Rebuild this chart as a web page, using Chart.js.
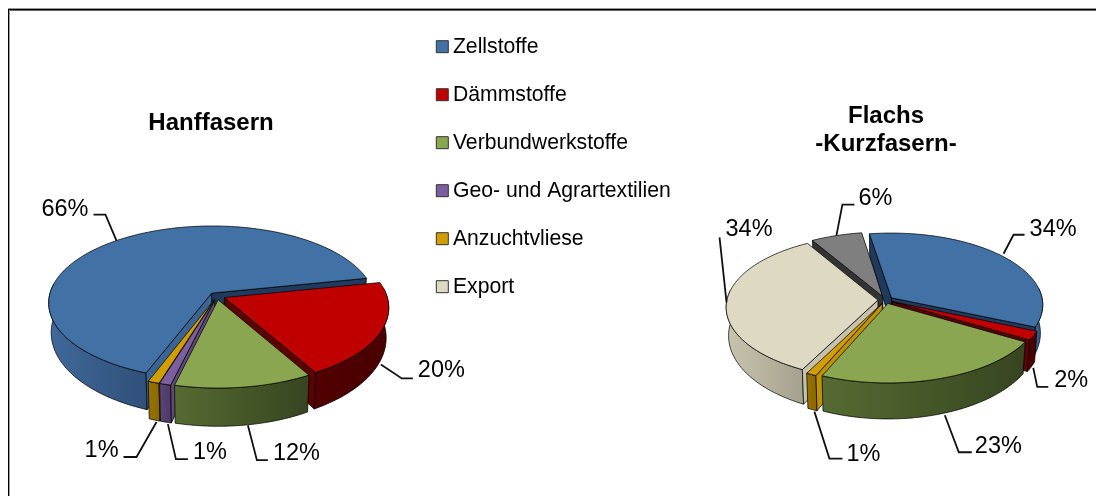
<!DOCTYPE html>
<html>
<head>
<meta charset="utf-8">
<style>
  html, body { margin: 0; background: #fff; overflow: hidden; }
  #frame { position: absolute; left: 8px; top: 9px; right: 0; bottom: 0; border-left: 1px solid #000; border-top: 1px solid #000; box-shadow: 0 -1px 0 #999, inset 1px 0 0 #999, inset 0 1px 0 #666; }
  canvas { position: absolute; left: 0; top: 0; }
</style>
</head>
<body>
<canvas id="chart" width="1096" height="496"></canvas>
<div id="frame"></div>
<script src="https://cdn.jsdelivr.net/npm/chart.js@4"></script>
<script>
// Data
const categories = ['Zellstoffe', 'Dämmstoffe', 'Verbundwerkstoffe', 'Geo- und Agrartextilien', 'Anzuchtvliese', 'Export', ''];
const pieTitles = [['Hanffasern'], ['Flachs', '-Kurzfasern-']];
const hanfValues = [66, 20, 12, 1, 1, 0, 0];
const flachsValues = [34, 2, 23, 0, 1, 34, 6];
const pieValues = [hanfValues, flachsValues];
const pieRotations = [200.8, 351];

// Colours per category
const topColors = ['#4271a6', '#c00000', '#8aa650', '#7b5f9e', '#d09e00', '#ddd9c3', '#7f7f7f'];
const wallLeft = ['#40699a', '#520000', '#566b32', '#5a4578', '#967200', '#c8c4ae', '#555555'];
const wallRight = ['#2f5079', '#480000', '#364520', '#4c3a66', '#8a6800', '#a5a18f', '#444444'];
const faceLight = ['#3a6493', '#7a0000', '#5a7035', '#5e4a7c', '#c09200', '#c5c1ab', '#666666'];
const faceDark = ['#1f3a5c', '#5c0000', '#3f4f24', '#4c3a66', '#8a6800', '#8c8975', '#333333'];

// Projection of each pie onto the page
const pieLayouts = [
    { cx: 217, cy: 296, rx: 162.5, ry: 76.2, k: 0.125, depth: 29, wallX: 0.985, wallY: 1.1, titleX: 211, titleY: 123 },
    { cx: 885.5, cy: 300, rx: 151, ry: 71.3, k: 0.095, depth: 27.7, wallX: 0.985, wallY: 1.1, titleX: 886, titleY: 116 }
];
const explode = 0.05;

// Leader lines, relative to the rim point at the middle of the slice
const leaders = [
    [
        { low: false, nudge: [0, 0], elbow: [-11, -26], end: [-23, -26], text: [-28, -31], align: 'right' },
        { low: true, nudge: [2, 1], elbow: [21, 14], end: [32, 14], text: [37, 6], align: 'left' },
        { low: true, nudge: [4, 0], elbow: [9, 35], end: [20, 35], text: [25, 28], align: 'left' },
        { low: true, nudge: [2, 2], elbow: [8, 35], end: [20, 35], text: [25, 28], align: 'left' },
        { low: true, nudge: [2, 2], elbow: [-20, 35], end: [-33, 35], text: [-38, 29], align: 'right' }
    ],
    [
        { low: false, nudge: [0, -3], elbow: [10, -19], end: [21, -19], text: [26, -24], align: 'left' },
        { low: true, nudge: [2, 1], elbow: [4, 19], end: [15, 19], text: [21, 13], align: 'left' },
        { low: true, nudge: [6, 1], elbow: [14, 37], end: [27, 37], text: [30, 31], align: 'left' },
        null,
        { low: true, nudge: [2, 2], elbow: [15, 47], end: [28, 47], text: [32, 43], align: 'left' },
        { low: false, nudge: [0, 0], elbow: [-7, -65], end: [-7, -65], text: [-1, -73], align: 'left' },
        { low: false, nudge: [0, 0], elbow: [6, -31], end: [18, -31], text: [22, -37], align: 'left' }
    ]
];

const FONT = '"Liberation Sans", Arial, sans-serif';

const project = (L, u, v) => {
    const s = 1 - L.k * v;
    return { x: L.cx + L.rx * u / s, y: L.cy + L.ry * v / s };
};

// Same point on the underside of the pie
const lower = (L, p) => ({
    x: L.cx + (p.x - L.cx) * L.wallX,
    y: L.cy + (p.y - L.cy) * L.wallY + L.depth
});

const tracePath = (ctx, pts) => {
    ctx.beginPath();
    pts.forEach((p, i) => (i ? ctx.lineTo(p.x, p.y) : ctx.moveTo(p.x, p.y)));
    ctx.closePath();
};

const paint = (ctx, pts, fill) => {
    tracePath(ctx, pts);
    ctx.fillStyle = fill;
    ctx.fill();
    ctx.lineWidth = 1;
    ctx.strokeStyle = 'rgba(0,0,0,0.72)';
    ctx.stroke();
};

// Takes the angles the library worked out for the arc and draws it as a 3D slice
const drawSlice = (ctx, L, arc, index) => {
    const start = arc.startAngle;
    const end = arc.endAngle;
    const mid = (start + end) / 2;
    const ou = Math.cos(mid) * explode;
    const ov = Math.sin(mid) * explode;
    const rim = a => project(L, Math.cos(a) + ou, Math.sin(a) + ov);
    const apex = project(L, ou, ov);

    const steps = Math.max(4, Math.ceil((end - start) / 0.02));
    const angles = [];
    for (let i = 0; i <= steps; i++) angles.push(start + (end - start) * i / steps);

    // outer wall, only the part turned towards the viewer
    let run = [];
    const flush = () => {
        if (run.length > 1) {
            const top = run.map(rim);
            const pts = top.concat(top.map(p => lower(L, p)).reverse());
            const xs = pts.map(p => p.x);
            const grad = ctx.createLinearGradient(Math.min(...xs), 0, Math.max(...xs), 0);
            grad.addColorStop(0, wallLeft[index]);
            grad.addColorStop(1, wallRight[index]);
            paint(ctx, pts, grad);
        }
        run = [];
    };
    angles.forEach(a => {
        if (Math.sin(a) > -0.14) run.push(a);
        else flush();
    });
    flush();

    // the two cut faces
    const face = (a, side) => {
        const nu = Math.cos(a + side * Math.PI / 2);
        const nv = Math.sin(a + side * Math.PI / 2);
        if (nv < -0.05) return;
        const p = rim(a);
        paint(ctx, [apex, p, lower(L, p), lower(L, apex)], nu > 0.5 ? faceLight[index] : faceDark[index]);
    };
    face(start, -1);
    face(end, 1);

    // top
    paint(ctx, [apex].concat(angles.map(rim)), topColors[index]);
};

const drawLeader = (ctx, L, arc, value, leader) => {
    const mid = (arc.startAngle + arc.endAngle) / 2;
    let p = project(L, Math.cos(mid) * (1 + explode), Math.sin(mid) * (1 + explode));
    if (leader.low) p = lower(L, p);
    p = { x: p.x + leader.nudge[0], y: p.y + leader.nudge[1] };
    ctx.beginPath();
    ctx.moveTo(p.x, p.y);
    ctx.lineTo(p.x + leader.elbow[0], p.y + leader.elbow[1]);
    ctx.lineTo(p.x + leader.end[0], p.y + leader.end[1]);
    ctx.lineWidth = 1.8;
    ctx.strokeStyle = '#111';
    ctx.stroke();
    ctx.fillStyle = '#000';
    ctx.font = '23.5px ' + FONT;
    ctx.textAlign = leader.align;
    ctx.textBaseline = 'middle';
    ctx.fillText(value + '%', p.x + leader.text[0], p.y + leader.text[1]);
};

const pie3d = {
    id: 'pie3d',
    beforeDatasetsDraw(chart) {
        const ctx = chart.ctx;
        pieLayouts.forEach((L, d) => {
            const arcs = chart.getDatasetMeta(d).data;
            const order = arcs.map((arc, i) => i)
                .filter(i => pieValues[d][i] > 0)
                .sort((a, b) => {
                    const midOf = i => (arcs[i].startAngle + arcs[i].endAngle) / 2;
                    return Math.sin(midOf(a)) - Math.sin(midOf(b));
                });
            order.forEach(i => drawSlice(ctx, L, arcs[i], i));
            order.forEach(i => {
                if (leaders[d][i]) drawLeader(ctx, L, arcs[i], pieValues[d][i], leaders[d][i]);
            });

            ctx.fillStyle = '#000';
            ctx.font = 'bold 24px ' + FONT;
            ctx.textAlign = 'center';
            ctx.textBaseline = 'middle';
            pieTitles[d].forEach((line, n) => ctx.fillText(line, L.titleX, L.titleY + n * 28));
        });
        return false; // slices are already drawn above
    }
};

new Chart(document.getElementById('chart'), {
    type: 'pie',
    data: {
        labels: categories,
        datasets: [
            { label: 'Hanffasern', data: hanfValues, rotation: pieRotations[0], backgroundColor: topColors, borderColor: '#333', borderWidth: 1 },
            { label: 'Flachs', data: flachsValues, rotation: pieRotations[1], backgroundColor: topColors, borderColor: '#333', borderWidth: 1 }
        ]
    },
    options: {
        responsive: false,
        animation: false,
        layout: { padding: { left: 415.5, top: 9.3 } },
        plugins: {
            tooltip: { enabled: false },
            legend: {
                position: 'left',
                align: 'start',
                labels: {
                    usePointStyle: true,
                    pointStyle: 'rect',
                    boxWidth: 0.01,
                    boxHeight: 12,
                    padding: 26.8,
                    color: '#000',
                    font: { family: FONT, size: 21.2, lineHeight: 1.2 },
                    filter: item => item.text !== ''
                }
            }
        }
    },
    plugins: [pie3d]
});
</script>
</body>
</html>
